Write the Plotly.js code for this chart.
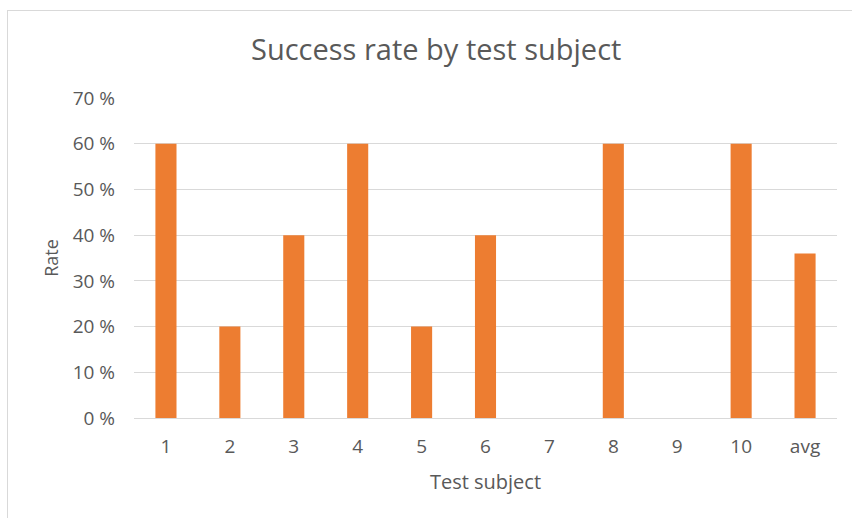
<!DOCTYPE html>
<html>
<head>
<meta charset="utf-8">
<script src="https://cdn.plot.ly/plotly-3.0.1.min.js"></script>
<style>
html,body{margin:0;padding:0;background:#fff;overflow:hidden;}
#frame{position:absolute;left:7px;top:10px;width:900px;height:600px;border:1px solid #d9d9d9;}
#chart{position:absolute;left:0;top:0;width:852px;height:518px;}
</style>
</head>
<body>
<div id="frame"></div>
<div id="chart"></div>
<script>
const categories = ["1","2","3","4","5","6","7","8","9","10","avg"];
const rates = [0.60,0.20,0.40,0.60,0.20,0.40,0,0.60,0,0.60,0.36];
const tickValues = [0,0.1,0.2,0.3,0.4,0.5,0.6,0.7];
const tickLabels = ["0 %","10 %","20 %","30 %","40 %","50 %","60 %","70 %"];

const font = "Open Sans, Noto Sans, sans-serif";
Plotly.newPlot('chart', [{
  type: 'bar',
  x: categories,
  y: rates,
  marker: {color: '#ED7D31'},
  hoverinfo: 'x+y'
}], {
  width: 852, height: 518,
  margin: {l: 134, r: 15, t: 98, b: 100},
  paper_bgcolor: 'rgba(0,0,0,0)',
  plot_bgcolor: 'rgba(0,0,0,0)',
  bargap: 0.67,
  title: {text: 'Success rate by test subject', x: 0.512, xanchor: 'center', y: 0.903, yanchor: 'middle',
          font: {family: font, size: 29, color: '#595959'}},
  xaxis: {
    type: 'category',
    title: {text: 'Test subject', font: {family: font, size: 20, color: '#595959'}, standoff: 17},
    tickfont: {family: font, size: 19, color: '#595959'},
    showgrid: false, showline: true, linecolor: '#d9d9d9', linewidth: 1,
    ticks: '', ticklen: 0, ticklabelstandoff: 11
  },
  yaxis: {
    range: [0, 0.7],
    tickvals: tickValues, ticktext: tickLabels,
    tickfont: {family: font, size: 19, color: '#595959'},
    title: {text: 'Rate', font: {family: font, size: 18, color: '#595959'}, standoff: 9},
    showgrid: true, gridcolor: '#d9d9d9', gridwidth: 1,
    zeroline: false, showline: false, ticks: '', ticklabelstandoff: 18
  },
  showlegend: false
}, {displayModeBar: false, staticPlot: true});
</script>
</body>
</html>
